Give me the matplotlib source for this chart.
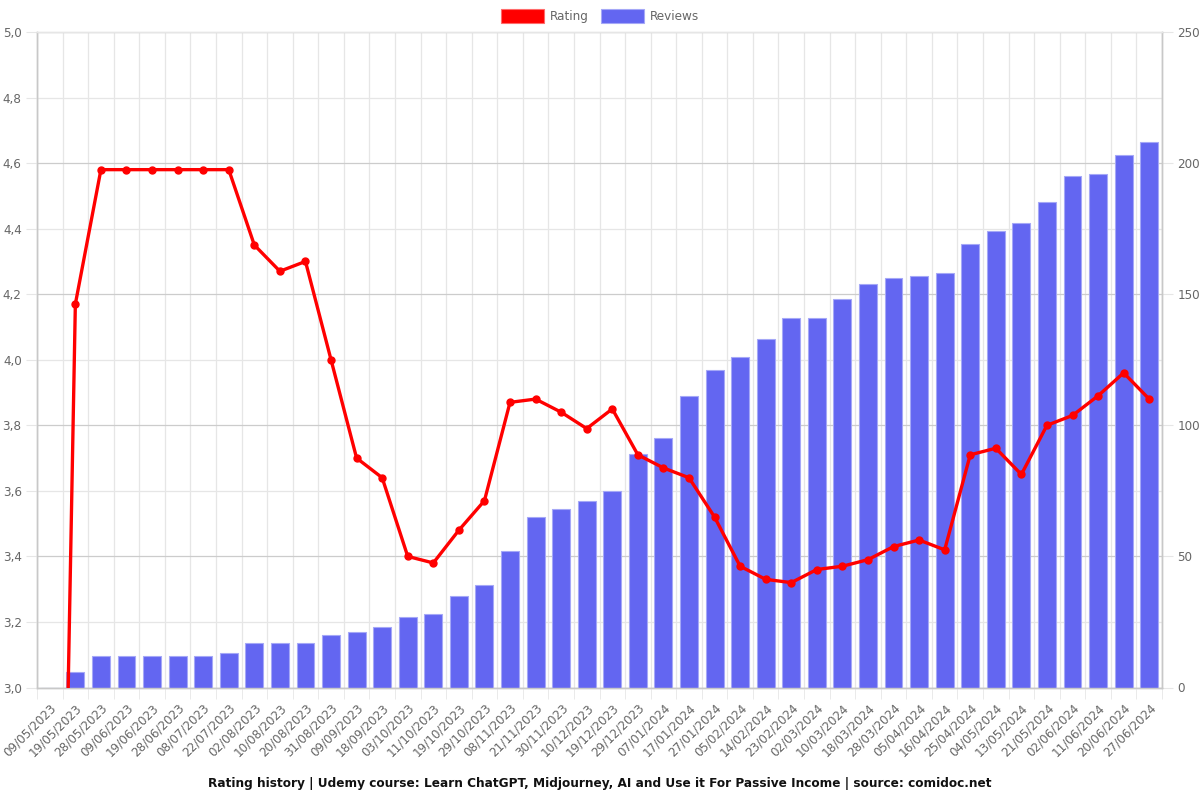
import matplotlib
matplotlib.use("Agg")
import matplotlib.pyplot as plt
from matplotlib.patches import Patch
from matplotlib.ticker import MultipleLocator, FixedLocator, FuncFormatter

dates = ["09/05/2023", "19/05/2023", "28/05/2023", "09/06/2023", "19/06/2023", "28/06/2023",
         "08/07/2023", "22/07/2023", "02/08/2023", "10/08/2023", "20/08/2023", "31/08/2023",
         "09/09/2023", "18/09/2023", "03/10/2023", "11/10/2023", "19/10/2023", "29/10/2023",
         "08/11/2023", "21/11/2023", "30/11/2023", "10/12/2023", "19/12/2023", "29/12/2023",
         "07/01/2024", "17/01/2024", "27/01/2024", "05/02/2024", "14/02/2024", "23/02/2024",
         "02/03/2024", "10/03/2024", "18/03/2024", "28/03/2024", "05/04/2024", "16/04/2024",
         "25/04/2024", "04/05/2024", "13/05/2024", "21/05/2024", "02/06/2024", "11/06/2024",
         "20/06/2024", "27/06/2024"]

rating = [0.0, 4.17, 4.58, 4.58, 4.58, 4.58, 4.58, 4.58, 4.35, 4.27, 4.30, 4.00,
          3.70, 3.64, 3.40, 3.38, 3.48, 3.57, 3.87, 3.88, 3.84, 3.79, 3.85, 3.71,
          3.67, 3.64, 3.52, 3.37, 3.33, 3.32, 3.36, 3.37, 3.39, 3.43, 3.45, 3.42,
          3.71, 3.73, 3.65, 3.80, 3.83, 3.89, 3.96, 3.88]

reviews = [0, 6, 12, 12, 12, 12, 12, 13, 17, 17, 17, 20,
           21, 23, 27, 28, 35, 39, 52, 65, 68, 71, 75, 89,
           95, 111, 121, 126, 133, 141, 141, 148, 154, 156, 157, 158,
           169, 174, 177, 185, 195, 196, 203, 208]

title = ("Rating history | Udemy course: Learn ChatGPT, Midjourney, AI and Use it "
         "For Passive Income | source: comidoc.net")

TXT = "#666666"
AXC = "#c8c8c8"
LIGHT = "#e6e6e6"
DARK = "#cccccc"
FS = 8.64

fig = plt.figure(figsize=(12, 8), dpi=100)
axr = fig.add_axes([37 / 1200, 1 - 687.5 / 800, 1125 / 1200, 655.5 / 800])
ax = axr.twinx()
ax.xaxis.set_visible(True)
# rating axis on the left, reviews on the right
ax.yaxis.tick_left()
ax.yaxis.set_label_position("left")
axr.yaxis.tick_right()
axr.yaxis.set_label_position("right")
ax.set_zorder(axr.get_zorder() + 1)
ax.patch.set_visible(False)

n = len(dates)
x = list(range(n))

# bars (reviews)
axr.bar(x, reviews, width=0.7, color="#6366f1", edgecolor="#a5a8f7", linewidth=0.8, zorder=3)
axr.set_ylim(0, 250)
axr.set_xlim(-0.5, n - 0.5)
axr.yaxis.set_major_locator(MultipleLocator(50))
axr.yaxis.set_minor_locator(MultipleLocator(25))
axr.grid(True, which="major", axis="y", color=DARK, linewidth=0.9, zorder=0)
axr.grid(True, which="minor", axis="y", color=LIGHT, linewidth=0.9, zorder=0)
axr.set_axisbelow(True)
axr.tick_params(axis="y", which="major", right=True, left=False, length=8, color=LIGHT,
                labelcolor=TXT, labelsize=FS, pad=3)
axr.tick_params(axis="y", which="minor", length=0)

# line (rating)
ax.plot(x, rating, color="#ff0000", linewidth=2.4, marker="o", markersize=5,
        markerfacecolor="#ff0000", markeredgecolor="#ff0000", zorder=5, clip_on=True)
ax.set_ylim(3.0, 5.0)
ax.set_xlim(-0.5, n - 0.5)
ax.yaxis.set_major_locator(MultipleLocator(0.2))
ax.yaxis.set_major_formatter(FuncFormatter(lambda v, p: f"{v:.1f}".replace(".", ",")))
ax.tick_params(axis="y", which="major", left=True, right=False, length=8, color=LIGHT,
               labelcolor=TXT, labelsize=FS, pad=3)
ax.set_xticks(x)
ax.set_xticklabels(dates, rotation=45, ha="right", rotation_mode="anchor",
                   color=TXT, fontsize=FS)
ax.xaxis.set_minor_locator(FixedLocator([i - 0.5 for i in range(n + 1)]))
ax.tick_params(axis="x", which="major", length=0, pad=10, bottom=True, labelbottom=True)
ax.tick_params(axis="x", which="minor", length=8, color=LIGHT, bottom=True)

# vertical grid at category boundaries, drawn on the lower axes
axr.grid(True, which="minor", axis="x", color=LIGHT, linewidth=0.9, zorder=0)
axr.tick_params(axis="x", which="both", bottom=False, labelbottom=False)

for a in (ax, axr):
    for s in a.spines.values():
        s.set_color(AXC)
        s.set_linewidth(1.0)
ax.spines["top"].set_color(LIGHT)
axr.spines["top"].set_color(LIGHT)

handles = [Patch(facecolor="#ff0000", edgecolor="#ff6b6b", linewidth=0.8, label="Rating"),
           Patch(facecolor="#6366f1", edgecolor="#a5a8f7", linewidth=0.8, label="Reviews")]
fig.legend(handles=handles, loc="center", bbox_to_anchor=(0.5, 1 - 16 / 800), ncol=2,
           frameon=False, fontsize=FS, handlelength=3.6, handleheight=1.5,
           handletextpad=0.5, columnspacing=1.0, labelcolor=TXT)

fig.text(0.5, 1 - 783 / 800, title, ha="center", va="center", fontsize=8.7,
         fontweight="bold", color="#111111")

fig.savefig("out.png", dpi=100)
